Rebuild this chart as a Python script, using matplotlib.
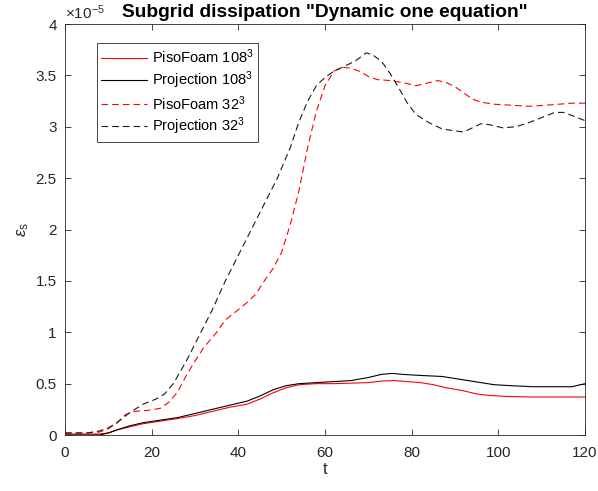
import matplotlib
matplotlib.use('Agg')
import matplotlib.pyplot as plt
from matplotlib.ticker import FuncFormatter

plt.rcParams['font.family'] = ['Liberation Sans', 'DejaVu Sans']
plt.rcParams['mathtext.fontset'] = 'custom'
plt.rcParams['mathtext.rm'] = 'Liberation Sans'
plt.rcParams['mathtext.it'] = 'Liberation Sans:italic'

# Datos (unidades de 1e-5)
t_proj32 = [0, 5, 8, 10, 12, 15, 18, 21, 23, 25, 28, 31, 34, 37, 40, 43, 46, 49, 52, 54,
            56, 58, 60, 62, 65, 67, 69.5, 71, 73, 75, 77, 79, 81, 84, 87, 90, 92, 94, 96,
            98, 101, 104, 107, 110, 113, 115, 117, 120]
e_proj32 = [0.02, 0.02, 0.04, 0.07, 0.12, 0.22, 0.30, 0.35, 0.40, 0.50, 0.72, 0.97, 1.22,
            1.50, 1.75, 2.00, 2.25, 2.50, 2.80, 3.05, 3.25, 3.40, 3.48, 3.54, 3.60, 3.64,
            3.72, 3.70, 3.64, 3.52, 3.38, 3.23, 3.12, 3.04, 2.98, 2.96, 2.95, 2.99, 3.03,
            3.02, 2.99, 3.00, 3.04, 3.09, 3.14, 3.14, 3.11, 3.06]

t_piso32 = [0, 5, 8, 10, 12, 14, 16, 19, 22, 24, 26, 28, 30, 32, 35, 37, 40, 42, 44, 46,
            48, 50, 52, 54, 56, 58, 60, 62, 64, 66, 68, 70, 72, 75, 78, 81, 84, 86, 88, 90,
            92, 94, 96, 99, 103, 107, 111, 114, 117, 120]
e_piso32 = [0.02, 0.02, 0.03, 0.06, 0.12, 0.20, 0.23, 0.24, 0.26, 0.32, 0.42, 0.58, 0.72,
            0.85, 1.00, 1.12, 1.22, 1.29, 1.37, 1.50, 1.62, 1.78, 2.05, 2.38, 2.80, 3.15,
            3.40, 3.54, 3.58, 3.57, 3.54, 3.49, 3.46, 3.45, 3.43, 3.40, 3.43, 3.45, 3.43,
            3.39, 3.33, 3.27, 3.24, 3.22, 3.21, 3.20, 3.21, 3.22, 3.23, 3.23]

t_proj108 = [0, 5, 8, 10, 12, 15, 18, 22, 26, 30, 34, 38, 42, 45, 48, 51, 54, 58, 62, 66,
             70, 73, 75.5, 78, 82, 87, 90, 93, 96, 99, 103, 108, 114, 117, 120]
e_proj108 = [0.0, 0.0, 0.0, 0.02, 0.05, 0.09, 0.12, 0.145, 0.17, 0.21, 0.25, 0.29, 0.33,
             0.38, 0.44, 0.48, 0.50, 0.51, 0.52, 0.53, 0.56, 0.59, 0.60, 0.59, 0.58, 0.57,
             0.55, 0.53, 0.51, 0.49, 0.48, 0.47, 0.47, 0.47, 0.50]

t_piso108 = [0, 5, 8, 10, 12, 15, 18, 22, 26, 30, 34, 38, 42, 45, 48, 51, 54, 58, 62, 66,
             70, 73, 76, 79, 82, 85, 88, 92, 95, 98, 102, 108, 114, 120]
e_piso108 = [0.01, 0.01, 0.01, 0.02, 0.05, 0.08, 0.11, 0.135, 0.16, 0.19, 0.23, 0.27, 0.30,
             0.35, 0.41, 0.46, 0.49, 0.50, 0.50, 0.505, 0.51, 0.525, 0.53, 0.52, 0.51, 0.49,
             0.46, 0.43, 0.40, 0.385, 0.375, 0.37, 0.37, 0.37]

fig = plt.figure(figsize=(5.98, 4.91), dpi=100)
ax = fig.add_axes([0.1087, 0.114, 0.8696, 0.837])

guion = (0, (6, 3.6))
ax.plot(t_piso108, e_piso108, color='#ff0000', lw=0.8, label='PisoFoam 108$^3$')
ax.plot(t_proj108, e_proj108, color='black', lw=0.8, label='Projection 108$^3$')
ax.plot(t_piso32, e_piso32, color='#ff0000', lw=0.8, ls=guion, label='PisoFoam 32$^3$')
ax.plot(t_proj32, e_proj32, color='#1a1a1a', lw=0.8, ls=guion, label='Projection 32$^3$')

ax.set_xlim(0, 120)
ax.set_ylim(0, 4)
ax.set_xticks(range(0, 121, 20))
ax.set_yticks([0, 0.5, 1, 1.5, 2, 2.5, 3, 3.5, 4])
ax.yaxis.set_major_formatter(FuncFormatter(lambda v, p: '%g' % v))

gris = '#262626'
for s in ax.spines.values():
    s.set_color(gris)
    s.set_linewidth(0.6)
ax.tick_params(direction='in', top=True, right=True, length=4, width=0.6,
               colors=gris, labelsize=11)
ax.tick_params(axis='x', pad=8)
ax.tick_params(axis='y', pad=6)

ax.set_title('Subgrid dissipation "Dynamic one equation"', fontsize=13.8,
             fontweight='bold', pad=5)
ax.set_xlabel('t', fontsize=12, color=gris, labelpad=1)
ax.set_ylabel('$\\epsilon_\\mathrm{s}$', fontsize=12, color=gris, labelpad=3)
ax.text(0.0, 1.006, '$\\times10^{-5}$', transform=ax.transAxes, fontsize=11,
        color=gris, ha='left', va='bottom')

leg = ax.legend(loc='upper left', bbox_to_anchor=(0.0615, 0.954), borderaxespad=0,
                fontsize=10.5, handlelength=3.1, handletextpad=0.4, borderpad=0.3,
                labelspacing=0.22, fancybox=False, framealpha=1, edgecolor=gris)
leg.get_frame().set_linewidth(0.6)

plt.savefig('out.png', dpi=100)
